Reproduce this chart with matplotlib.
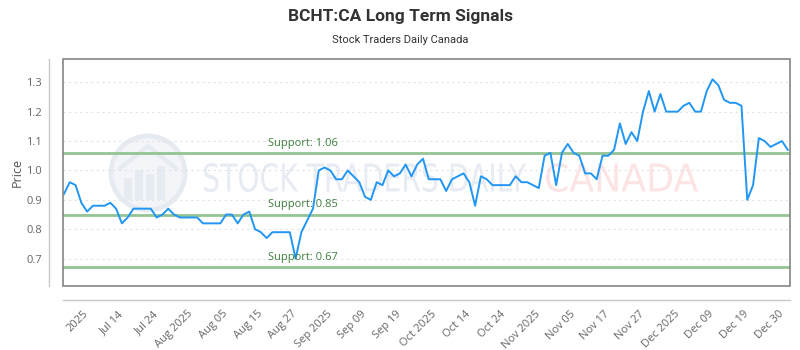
import numpy as np
import matplotlib
matplotlib.use("Agg")
import matplotlib.pyplot as plt
from matplotlib.textpath import TextPath
from matplotlib.patches import PathPatch, Circle, Rectangle, Polygon
from matplotlib.font_manager import FontProperties
from matplotlib.transforms import Affine2D, blended_transform_factory

plt.rcParams['font.family'] = ['Open Sans', 'DejaVu Sans']

# ---------------- data ----------------
prices = [
    0.92, 0.96, 0.95, 0.89, 0.86, 0.88, 0.88, 0.88, 0.89, 0.87,
    0.82, 0.84, 0.87, 0.87, 0.87, 0.87, 0.84, 0.85, 0.87, 0.85,
    0.84, 0.84, 0.84, 0.84, 0.82, 0.82, 0.82, 0.82, 0.85, 0.85,
    0.82, 0.85, 0.86, 0.80, 0.79, 0.77, 0.79, 0.79, 0.79, 0.79,
    0.70, 0.79, 0.83, 0.87, 1.00, 1.01, 1.00, 0.97, 0.97, 1.00,
    0.98, 0.96, 0.91, 0.90, 0.96, 0.95, 1.00, 0.98, 0.99, 1.02,
    0.98, 1.02, 1.04, 0.97, 0.97, 0.97, 0.93, 0.97, 0.98, 0.99,
    0.96, 0.88, 0.98, 0.97, 0.95, 0.95, 0.95, 0.95, 0.98, 0.96,
    0.96, 0.95, 0.94, 1.05, 1.06, 0.95, 1.06, 1.09, 1.06, 1.05,
    0.99, 0.99, 0.97, 1.05, 1.05, 1.07, 1.16, 1.09, 1.13, 1.10,
    1.20, 1.27, 1.20, 1.26, 1.20, 1.20, 1.20, 1.22, 1.23, 1.20,
    1.20, 1.27, 1.31, 1.29, 1.24, 1.23, 1.23, 1.22, 0.90, 0.95,
    1.11, 1.10, 1.08, 1.09, 1.10, 1.07,
]
tick_labels = [
    "2025", "Jul 14", "Jul 24", "Aug 2025", "Aug 05", "Aug 15", "Aug 27",
    "Sep 2025", "Sep 09", "Sep 19", "Oct 2025", "Oct 14", "Oct 24",
    "Nov 2025", "Nov 05", "Nov 17", "Nov 27", "Dec 2025", "Dec 09",
    "Dec 19", "Dec 30",
]
support_levels = [1.06, 0.85, 0.67]
y_ticks = [0.7, 0.8, 0.9, 1.0, 1.1, 1.2, 1.3]
title = "BCHT:CA Long Term Signals"
subtitle = "Stock Traders Daily Canada"

# ---------------- figure ----------------
W, H = 800, 350
fig = plt.figure(figsize=(W / 100, H / 100), dpi=100)
fig.patch.set_facecolor("white")
L, R, T, B = 63, 790, 59, 286
ax = fig.add_axes([L / W, 1 - B / H, (R - L) / W, (B - T) / H])

# spines first (set_position resets the ticks)
for side in ["top", "right"]:
    ax.spines[side].set_visible(False)
for side in ["left", "bottom"]:
    ax.spines[side].set_position(("outward", 10))
    ax.spines[side].set_color("#c8c8c8")
    ax.spines[side].set_linewidth(1)

x = np.arange(len(prices))
n = len(prices)
ax.set_xlim(-0.17, n - 1 + 0.38)
ax.set_ylim(0.607, 1.379)


def px_transform(bb, x0, x1, y0, y1):
    sx = (x1 - x0) / bb.width
    sy = (y1 - y0) / bb.height
    return (Affine2D().translate(-bb.x0, -bb.y0).scale(sx / W, sy / H)
            .translate(x0 / W, (H - y1) / H) + fig.transFigure)


# watermark
fp = FontProperties(family="DejaVu Sans")
for s, x0, x1, col in [("STOCK TRADERS DAILY", 204, 526, "#e7ebf3"),
                       ("CANADA", 546, 698, "#fde4e4")]:
    tp = TextPath((0, 0), s, size=20, prop=fp)
    bb = tp.get_extents()
    ax.add_patch(PathPatch(tp, transform=px_transform(bb, x0, x1, 163, 192),
                           fc=col, ec="none", zorder=0.3))

figpx = Affine2D().scale(1 / W, 1 / H) + fig.transFigure
ax.add_patch(Circle((148, H - 173), 37, transform=figpx, fc="#f3f5f9",
                    ec="#e6eaf1", lw=3.5, zorder=0.3))
for bx, bh in [(128, 22), (139, 30), (150, 26), (161, 34)]:
    ax.add_patch(Rectangle((bx - 4, H - 200), 8, bh, transform=figpx,
                           fc="#e6eaf1", ec="none", zorder=0.31))
ax.add_patch(Polygon([(118, H - 170), (148, H - 146), (178, H - 170)],
                     closed=False, fill=False, transform=figpx,
                     ec="#e6eaf1", lw=3, zorder=0.31))

# grid
ax.set_yticks(y_ticks)
ax.set_yticklabels([f"{v:.1f}" for v in y_ticks])
ax.yaxis.grid(True, color="#e3e3e3", linestyle=(0, (2, 3)), lw=0.8, zorder=0.4)
ax.set_axisbelow(True)

# support lines
tr = blended_transform_factory(ax.transAxes, ax.transData)
for lv in support_levels:
    ax.axhline(lv, color="#93c493", lw=2, zorder=1)
    ax.annotate(f"Support: {lv:.2f}", xy=(0.282, lv), xycoords=tr,
                xytext=(0, 3), textcoords="offset points",
                ha="left", va="bottom", color="#3d7f3d", fontsize=8, zorder=3)

ax.plot(x, prices, color="#2196F3", lw=1.4, zorder=2)

# ticks
tick_pos = np.arange(4, n, 6)[:len(tick_labels)]
ax.set_xticks(tick_pos)
ax.set_xticklabels(tick_labels, rotation=45, ha="right", va="center",
                   rotation_mode="anchor")
ax.tick_params(axis="x", length=0, pad=9, labelsize=8, colors="#666666")
ax.tick_params(axis="y", length=0, pad=5, labelsize=8, colors="#666666")

ax.add_patch(Rectangle((0, 0), 1, 1, transform=ax.transAxes, fill=False,
                       ec="#858585", lw=1.2, clip_on=False, zorder=5))

ax.set_ylabel("Price", color="#555555", fontsize=9, labelpad=2)

fig.text(0.5, 1 - 16 / H, title, ha="center", va="center", fontsize=12.5,
         weight="bold", color="#333333",
         family=["Liberation Sans Narrow", "Roboto", "DejaVu Sans"])
fig.text(0.5, 1 - 40 / H, subtitle, ha="center", va="center", fontsize=8,
         color="#333333",
         family=["Liberation Sans Narrow", "Roboto", "DejaVu Sans"])

fig.savefig("out.png", dpi=100, facecolor="white")
